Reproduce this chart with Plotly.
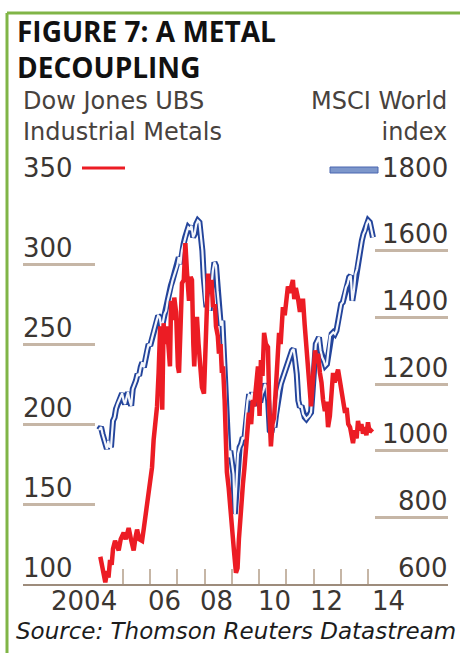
import plotly.graph_objects as go

# ---------------- data ----------------
title_lines = ["FIGURE 7: A METAL", "DECOUPLING"]
left_title = ["Dow Jones UBS", "Industrial Metals"]
right_title = ["MSCI World", "index"]
source_text = "Source: Thomson Reuters Datastream"

left_ticks = [100, 150, 200, 250, 300, 350]
right_ticks = [600, 800, 1000, 1200, 1400, 1600, 1800]
year_ticks = [2005, 2006, 2007, 2008, 2009, 2010, 2011, 2012, 2013, 2014]
year_label_pos = [2003.57, 2006.51, 2008.45, 2010.58, 2012.49, 2014.77]
year_label_text = ["2004", "06", "08", "10", "12", "14"]

# Dow Jones UBS Industrial Metals (months since Jan 2004, index value)
metal_month = [2, 2.7, 3.5, 4.2, 5, 5.6, 6.3, 7, 7.6, 8.5, 9.3, 10.1, 11, 12.3, 13.2, 14.5, 15.5, 16.7,
               17.5, 18.2, 19.2, 20.4, 21.2, 21.8, 22.6, 23.3, 24.0, 24.8, 25.5, 26.2, 27.0, 27.7, 28.4,
               29.0, 29.3, 29.9, 30.5, 31.4, 32.2, 32.7, 33.2, 34.0, 34.6, 35.4, 36.2, 36.7, 37.4, 38.0,
               38.8, 39.5, 40.2, 41.1, 41.8, 42.4, 43.0, 43.4, 44.0, 44.6, 45.3, 46.0, 46.8, 47.7, 48.5,
               49.5, 50.2, 51.0, 51.7, 52.5, 53.0, 53.8, 54.3, 55.0, 55.6, 56.1, 56.8, 57.4, 57.8, 58.6,
               59.6, 60.3, 60.9, 61.8, 62.5, 63.1, 64.0, 64.9, 65.5, 66.2, 67.0, 67.5, 68.5, 69.2, 69.8,
               70.6, 71.5, 72.2, 72.8, 73.5, 74.2, 75.0, 75.9, 76.5, 77.2, 77.9, 78.6, 79.5, 80.8, 81.5,
               82.5, 83.3, 84.0, 84.7, 85.5, 86.9, 87.5, 88.2, 89.1, 90.0, 90.7, 91.4, 92.1, 92.7, 93.3,
               94.0, 94.9, 95.6, 96.7, 97.4, 98.0, 98.8, 99.5, 100.2, 101.0, 101.7, 102.4, 103.2, 104.0,
               104.6, 105.3, 106.0, 106.8, 107.5, 108.1, 109.0, 109.9, 110.6, 111.3, 112.1, 112.8, 113.4,
               114.2, 115.0, 115.6, 116.4, 117.1, 117.8, 118.5, 119.3, 120.0, 120.7, 121.3, 122.0]
metal_value = [117, 112, 103, 101, 108, 104, 115, 112, 122, 127, 124, 121, 128, 132, 128, 135, 128, 121,
               129, 134, 128, 127, 135, 142, 148, 157, 163, 173, 190, 198, 211, 232, 261,
               240, 209, 263, 250, 261, 245, 236, 277, 265, 279, 270, 236, 232, 262, 288,
               290, 313, 295, 277, 292, 290, 250, 236, 255, 267, 250, 240, 223, 219, 262,
               294, 282, 290, 273, 275, 261, 255, 244, 250, 232, 236, 215, 194, 170, 160,
               140, 132, 121, 107, 110, 128, 150, 163, 172, 182, 195, 207, 200, 215, 211,
               225, 236, 205, 240, 230, 257, 250, 248, 210, 186, 200, 204, 225, 257, 250,
               273, 268, 280, 286, 282, 290, 278, 285, 279, 270, 277, 277, 262, 252, 235,
               223, 211, 225, 246, 238, 244, 232, 226, 215, 208, 214, 198, 205, 222,
               232, 226, 230, 234, 228, 223, 216, 207, 210, 200, 198, 193, 188,
               196, 191, 202, 196, 200, 194, 198, 193, 201, 195, 196, 197]

# MSCI World index (months since Jan 2004, index value)
msci_month = [1.4, 2.3, 3.0, 3.6, 4.3, 4.9, 5.5, 6.0, 6.7, 7.6, 8.3, 8.9, 9.6, 10.2, 11.0, 11.6, 12.3,
              12.9, 13.6, 14.2, 14.9, 15.6, 16.3, 17.0, 17.7, 18.4, 19.1, 19.8, 20.5, 21.2, 21.9, 22.6,
              23.3, 24.0, 24.7, 25.4, 26.1, 26.8, 27.5, 28.2, 28.9, 29.6, 30.3, 31.0, 31.7, 32.4, 33.1,
              33.8, 34.5, 35.2, 35.9, 36.6, 37.3, 38.0, 38.7, 39.4, 40.1, 40.8, 41.5, 42.2, 42.9, 43.6,
              44.3, 45.0, 45.7, 46.4, 47.0, 47.6, 48.2, 48.8, 49.5, 50.2, 50.9, 51.6, 52.3, 53.0, 53.7,
              54.4, 55.1, 55.8, 56.5, 57.2, 57.9, 58.6, 59.3, 60.0, 60.7, 61.3, 62.0, 62.7, 63.4, 64.1,
              64.8, 65.5, 66.2, 66.9, 67.6, 68.3, 69.0, 69.7, 70.4, 71.1, 71.8, 72.5, 73.2, 73.9, 74.6,
              75.3, 76.0, 76.7, 77.4, 78.1, 78.8, 79.5, 80.2, 80.9, 81.6, 82.3, 83.0, 83.7, 84.4, 85.1,
              85.8, 86.5, 87.2, 87.9, 88.6, 89.3, 90.0, 90.7, 91.4, 92.1, 92.8, 93.5, 94.2, 94.9, 95.6,
              96.3, 97.0, 97.7, 98.4, 99.1, 99.8, 100.5, 101.2, 101.9, 102.6, 103.3, 104.0, 104.7, 105.4,
              106.1, 106.8, 107.5, 108.2, 108.9, 109.6, 110.3, 111.0, 111.7, 112.4, 113.1, 113.8, 114.5,
              115.2, 115.9, 116.6, 117.3, 118.0, 118.7, 119.4, 120.1, 120.8, 121.5, 122.2]
msci_value = [1062, 1071, 1050, 1035, 1015, 1005, 1030, 1012, 1010, 1090, 1100, 1125, 1140, 1150, 1165, 1172, 1150,
              1140, 1160, 1175, 1150, 1135, 1185, 1195, 1210, 1230, 1225, 1250, 1265, 1250, 1280, 1300,
              1320, 1315, 1335, 1355, 1370, 1390, 1405, 1400, 1370, 1385, 1410, 1420, 1450, 1470, 1495,
              1510, 1525, 1540, 1555, 1580, 1560, 1600, 1620, 1640, 1655, 1670, 1665, 1675, 1640, 1650,
              1680, 1690, 1685, 1640, 1600, 1520, 1450, 1430, 1470, 1420, 1480, 1540, 1565, 1555, 1480,
              1420, 1375, 1390, 1300, 1180, 1050, 980, 1000, 960, 930, 810, 900, 990, 1010, 1020,
              1040, 1035, 1100, 1150, 1170, 1150, 1175, 1135, 1160, 1170, 1155, 1145, 1170, 1180, 1200,
              1190, 1150, 1060, 1055, 1080, 1070, 1110, 1150, 1180, 1200, 1215, 1230, 1240, 1260, 1275,
              1285, 1300, 1305, 1275, 1230, 1150, 1130, 1135, 1110, 1100, 1095, 1100, 1105, 1115, 1180,
              1260, 1320, 1330, 1340, 1300, 1280, 1270, 1255, 1260, 1300, 1345, 1350, 1355, 1350,
              1360, 1385, 1420, 1440, 1445, 1470, 1490, 1500, 1520, 1525, 1450, 1480, 1530,
              1545, 1575, 1600, 1630, 1650, 1660, 1680, 1690, 1685, 1665, 1640]

# ---------------- layout helpers ----------------
W, H = 460, 653
L, R, T, B = 23, 448, 184, 584  # plot area in pixels
X_RANGE = [2001.326, 2016.94]


def px(x):
    return (x - L) / (R - L)


def py(y):
    return (B - y) / (B - T)


metal_t = [2004 + m / 12 for m in metal_month]
msci_t = [2004 + m / 12 for m in msci_month]

RED = "#ec1c24"
BLUE = "#23449b"
GRID = "#c6b6a6"
AXIS = "#9d8c7c"
TXT = "#3b3632"

fig = go.Figure()
fig.add_trace(go.Scatter(x=msci_t, y=msci_value, mode="lines", yaxis="y",
                         line=dict(color=BLUE, width=6), hoverinfo="skip"))
fig.add_trace(go.Scatter(x=msci_t, y=msci_value, mode="lines", yaxis="y",
                         line=dict(color="#f4f6fb", width=2.2), hoverinfo="skip"))
fig.add_trace(go.Scatter(x=metal_t, y=metal_value, mode="lines", yaxis="y2",
                         line=dict(color=RED, width=4.5), hoverinfo="skip"))

annotations = []
tick_font = dict(family="DejaVu Sans", size=26, color=TXT)
for v in left_ticks:
    annotations.append(dict(text=str(v), x=0, xref="paper", y=v, yref="y2", xanchor="left",
                            yanchor="middle", yshift=16.5, showarrow=False, font=tick_font,
                            borderpad=0, borderwidth=0))
for v in right_ticks:
    annotations.append(dict(text=str(v), x=1, xref="paper", y=v, yref="y", xanchor="right",
                            yanchor="middle", yshift=16.5, showarrow=False, font=tick_font,
                            borderpad=0, borderwidth=0))
for pos, lab in zip(year_label_pos, year_label_text):
    annotations.append(dict(text=lab, x=pos, xref="x", y=py(601), yref="paper", xanchor="center",
                            yanchor="middle", showarrow=False, font=tick_font,
                            borderpad=0, borderwidth=0))

title_font = dict(family="Open Sans", size=28, color="#111111")
annotations.append(dict(text="<br>".join("<b>%s</b>" % t for t in title_lines),
                        x=px(17), xref="paper", y=py(49), yref="paper", align="left",
                        xanchor="left", yanchor="middle", showarrow=False, font=title_font,
                        borderpad=0, borderwidth=0))
sub_font = dict(family="DejaVu Sans", size=24, color="#48423d")
annotations.append(dict(text="<br>".join(left_title), x=px(23), xref="paper", y=py(116), yref="paper",
                        xanchor="left", yanchor="middle", align="left", showarrow=False,
                        font=sub_font, borderpad=0, borderwidth=0))
annotations.append(dict(text="<br>".join(right_title), x=px(447), xref="paper", y=py(116), yref="paper",
                        xanchor="right", yanchor="middle", align="right", showarrow=False,
                        font=sub_font, borderpad=0, borderwidth=0))
annotations.append(dict(text="<i>%s</i>" % source_text, x=px(16), xref="paper", y=py(631), yref="paper",
                        xanchor="left", yanchor="middle", showarrow=False,
                        font=dict(family="DejaVu Sans", size=23, color="#1c1c1c"),
                        borderpad=0, borderwidth=0))

GREEN = "#80b547"
shapes = [
    # frame (top and left edges)
    dict(type="line", xref="paper", yref="paper", x0=px(7), x1=px(462), y0=py(13), y1=py(13),
         line=dict(color=GREEN, width=3)),
    dict(type="line", xref="paper", yref="paper", x0=px(7), x1=px(7), y0=py(13), y1=py(656),
         line=dict(color=GREEN, width=3)),
    # legend keys
    dict(type="line", xref="paper", yref="paper", x0=px(82), x1=px(125), y0=py(168), y1=py(168),
         line=dict(color=RED, width=3)),
    dict(type="rect", xref="paper", yref="paper", x0=px(330), x1=px(378), y0=py(167), y1=py(173),
         fillcolor="#7d97cb", line=dict(color="#4a67b0", width=1)),
]

fig.update_layout(
    width=W, height=H,
    margin=dict(l=L, r=W - R, t=T, b=H - B, pad=0),
    paper_bgcolor="white", plot_bgcolor="white",
    showlegend=False,
    xaxis=dict(range=X_RANGE, showgrid=False, zeroline=False, showline=True,
               linecolor=AXIS, linewidth=2, tickmode="array", tickvals=year_ticks,
               ticks="inside", ticklen=15, tickwidth=2, tickcolor=GRID, showticklabels=False),
    yaxis=dict(range=[600, 1800], side="right", showgrid=False, zeroline=False, showline=False,
               tickmode="array", tickvals=right_ticks, ticks="inside", ticklen=73,
               tickwidth=2.5, tickcolor=GRID, showticklabels=False),
    yaxis2=dict(range=[100, 350], side="left", overlaying="y", showgrid=False, zeroline=False,
                showline=False, tickmode="array", tickvals=left_ticks, ticks="inside", ticklen=72,
                tickwidth=2.5, tickcolor=GRID, showticklabels=False),
    annotations=annotations,
    shapes=shapes,
)

fig.write_html("out.html")
